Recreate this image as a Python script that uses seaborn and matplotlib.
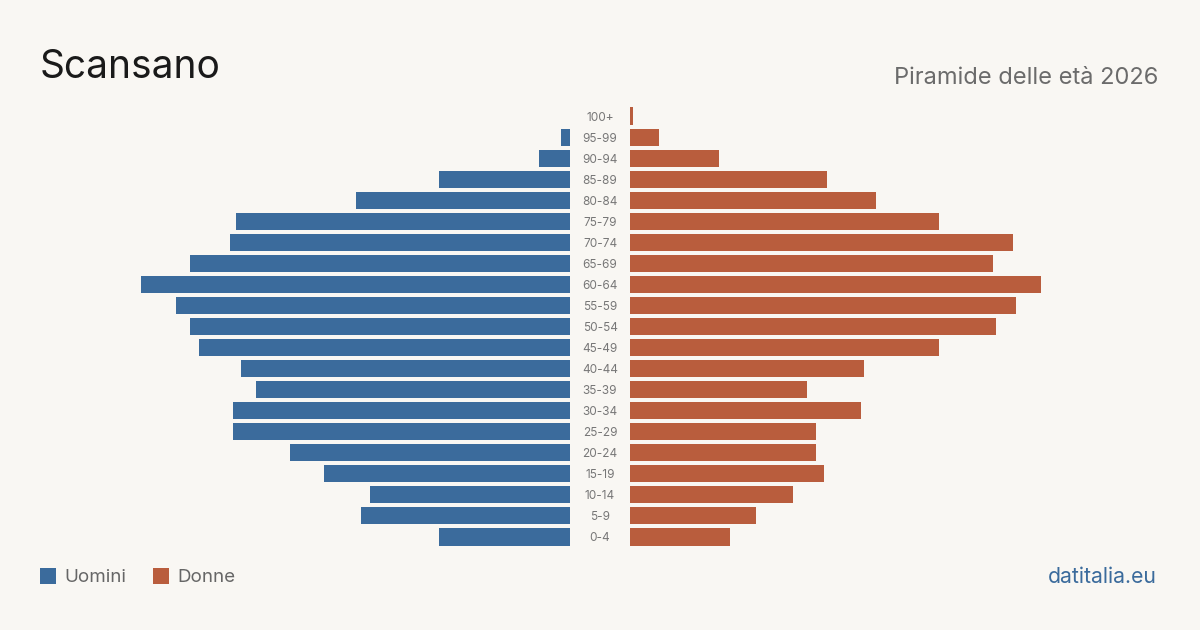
import pandas as pd
import matplotlib.pyplot as plt
import seaborn as sns
from matplotlib.patches import Rectangle

sns.set_theme(style="white")
plt.rcParams['font.family'] = ['Inter', 'DejaVu Sans']

# Age classes, oldest first (top of the pyramid)
age_groups = ['100+', '95-99', '90-94', '85-89', '80-84', '75-79', '70-74',
              '65-69', '60-64', '55-59', '50-54', '45-49', '40-44', '35-39',
              '30-34', '25-29', '20-24', '15-19', '10-14', '5-9', '0-4']
men = [0, 3, 11, 46, 75, 117, 119, 133, 150, 138, 133, 130, 115, 110,
       118, 118, 98, 86, 70, 73, 46]
women = [1, 10, 31, 69, 86, 108, 134, 127, 144, 135, 128, 108, 82, 62,
         81, 65, 65, 68, 57, 44, 35]

blue = '#3b6b9c'
orange = '#b95d3d'
bg = '#f9f7f3'

df = pd.DataFrame({'age': age_groups, 'men': men, 'women': women})

fig = plt.figure(figsize=(12, 6.3), dpi=100)
fig.patch.set_facecolor(bg)

W, H = 1200, 630
top_px, bot_px = 105.5, 547.5
ax_w = 500
xmax = ax_w / 2.857

ax_l = fig.add_axes([(570 - ax_w) / W, 1 - bot_px / H, ax_w / W, (bot_px - top_px) / H])
ax_r = fig.add_axes([630 / W, 1 - bot_px / H, ax_w / W, (bot_px - top_px) / H])

sns.barplot(data=df, y='age', x='men', order=age_groups, color=blue,
            width=0.81, saturation=1, linewidth=0, ax=ax_l)
sns.barplot(data=df, y='age', x='women', order=age_groups, color=orange,
            width=0.81, saturation=1, linewidth=0, ax=ax_r)

ax_l.set_xlim(xmax, 0)
ax_r.set_xlim(0, xmax)
for ax in (ax_l, ax_r):
    ax.set_ylim(len(age_groups) - 0.5, -0.5)
    ax.set_facecolor('none')
    ax.set_xlabel('')
    ax.set_ylabel('')
    ax.set_xticks([])
    ax.set_yticks([])
    for s in ax.spines.values():
        s.set_visible(False)

# age labels in the middle gap
for i, lab in enumerate(age_groups):
    ax_r.annotate(lab, xy=(0, i), xycoords='data', xytext=(-30, -1.5),
                  textcoords='offset pixels', ha='center', va='center',
                  fontsize=8.5, color='#777777')

fig.text(40 / W, 1 - 68 / H, 'Scansano', fontsize=28, color='#1a1a1a',
         ha='left', va='center')
fig.text(1158 / W, 1 - 78 / H, 'Piramide delle età 2026', fontsize=17,
         color='#6b6b6b', ha='right', va='center')

# legend
for x0, col, lab in [(40, blue, 'Uomini'), (153, orange, 'Donne')]:
    fig.patches.append(Rectangle((x0 / W, 1 - 584 / H), 16 / W, 16 / H,
                                 transform=fig.transFigure, facecolor=col,
                                 edgecolor='none'))
    fig.text((x0 + 24) / W, 1 - 577 / H, lab, fontsize=13.5, color='#666666',
             ha='left', va='center')

fig.text(1157 / W, 1 - 577 / H, 'datitalia.eu', fontsize=15.3, color=blue,
         ha='right', va='center')

fig.savefig('out.png', dpi=100, facecolor=bg)
